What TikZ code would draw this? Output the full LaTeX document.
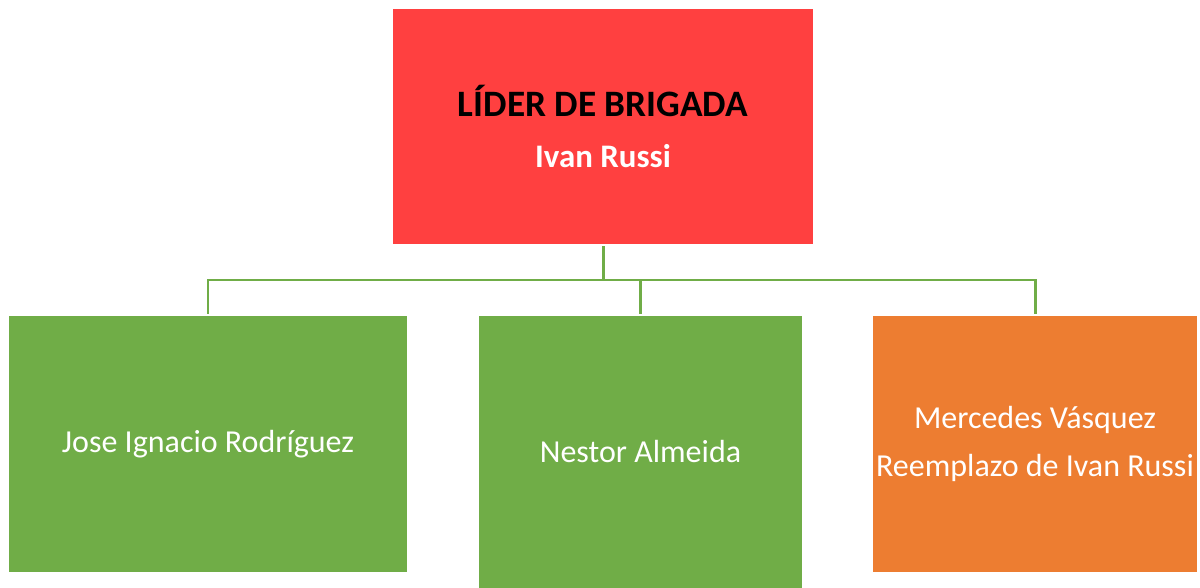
\documentclass[tikz,border=0pt]{standalone}
\usepackage{fontspec}
\setmainfont{Carlito}
\usepackage{tikz}

\definecolor{leadred}{HTML}{FF4040}
\definecolor{crewgreen}{HTML}{70AD47}
\definecolor{subsorange}{HTML}{ED7D31}

\tikzset{
  box/.style={draw=white, line width=0.3pt, text=white, align=center, inner sep=0pt},
  link/.style={draw=crewgreen, line width=0.85pt, line cap=rect}
}

\begin{document}
\begin{tikzpicture}[x=0.01cm, y=-0.01cm]
\useasboundingbox (0,0) rectangle (1200,588);

% leader
\node[box, fill=leadred, minimum width=4.2cm, minimum height=2.35cm] (lead) at (603,126.5)
  {{\fontsize{10.6}{12}\bfseries\color{black}LÍDER DE BRIGADA}\\[2.6pt]
   {\fontsize{9.35}{11}\bfseries Ivan Russi}};

% crew
\node[box, fill=crewgreen, minimum width=3.98cm, minimum height=2.56cm] (jose) at (208,444)
  {\fontsize{9.1}{11}\selectfont Jose Ignacio Rodríguez};
\node[box, fill=crewgreen, minimum width=3.23cm, minimum height=2.72cm] (nestor) at (640.5,452)
  {\fontsize{9.1}{11}\selectfont Nestor Almeida};

% substitute
\node[box, fill=subsorange, minimum width=3.24cm, minimum height=2.56cm] (mercedes) at (1035,444)
  {\fontsize{9.1}{11}\selectfont Mercedes Vásquez\\[1.6pt]
   \fontsize{9.1}{11}\selectfont Reemplazo de Ivan Russi};

% connectors
\coordinate (bus) at (603,280);
\draw[link, shorten <=0.03cm] (lead.south) -- (bus);
\draw[link, shorten >=0.03cm] (bus) -| (jose.north);
\draw[link, shorten >=0.03cm] (bus) -| (nestor.north);
\draw[link, shorten >=0.03cm] (bus) -| (mercedes.north);
\end{tikzpicture}
\end{document}
